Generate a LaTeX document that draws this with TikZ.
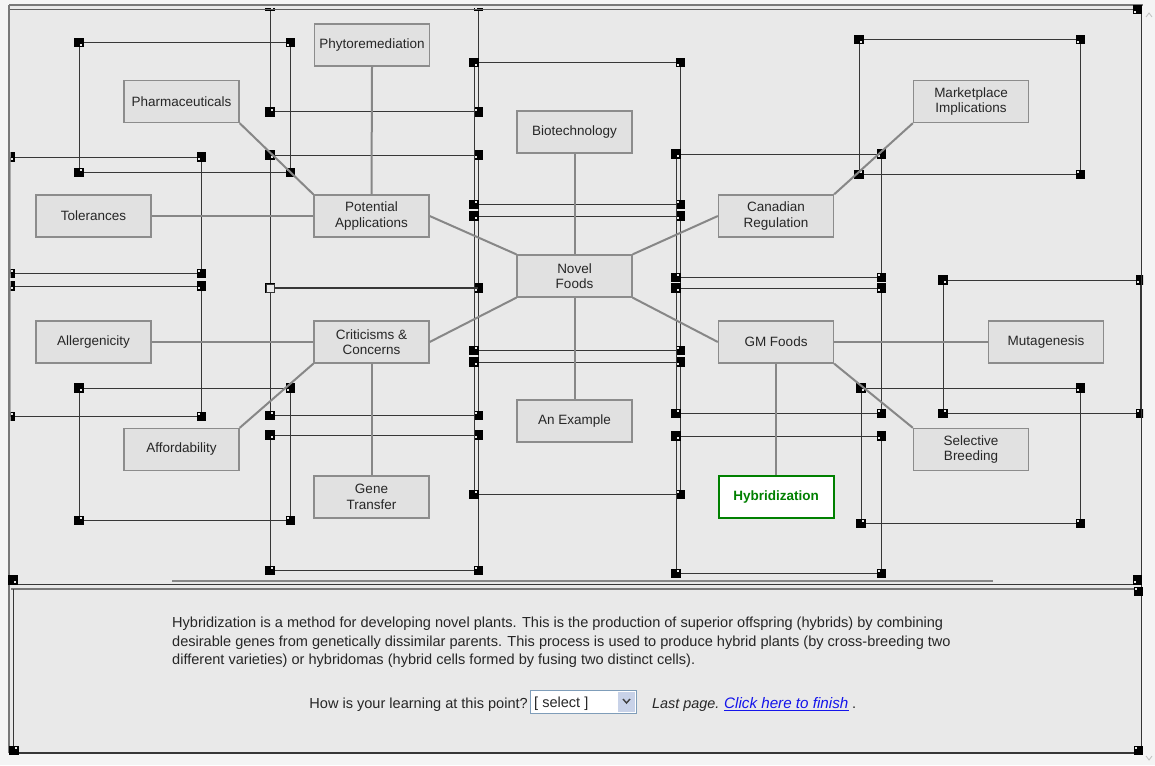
\documentclass[tikz,border=0pt]{standalone}
\usepackage{fontspec}
\setmainfont{Liberation Sans}
\definecolor{pagebg}{RGB}{244,244,244}
\definecolor{panel}{RGB}{233,233,233}
\definecolor{nodefill}{RGB}{225,225,225}
\definecolor{nodeline}{RGB}{140,140,140}
\definecolor{linkgray}{RGB}{135,135,135}
\definecolor{selline}{RGB}{55,55,55}
\definecolor{framegray}{RGB}{120,120,120}
\definecolor{hybgreen}{RGB}{0,128,0}
\definecolor{linkblue}{RGB}{20,20,235}
\definecolor{boxedge}{RGB}{127,157,185}
\definecolor{btnfill}{RGB}{200,210,232}
\newcommand\selbox[4]{%
  \draw[sel] (#1,#2) rectangle (#3,#4);
  \pic at (#1,#2) {hdl};
  \pic[xscale=-1] at (#3,#2) {hdl};
  \pic[yscale=-1] at (#1,#4) {hdl};
  \pic[xscale=-1,yscale=-1] at (#3,#4) {hdl};
}
\begin{document}
\begin{tikzpicture}[x=1pt,y=-1pt,
  topic/.style={draw=nodeline, fill=nodefill, line width=1.3pt,
    minimum width=115pt, minimum height=42pt, inner sep=0pt, align=center,
    font=\fontsize{13.5}{15.5}\selectfont, text=black!85},
  current/.style={topic, draw=hybgreen, fill=white, line width=2pt,
    text=hybgreen, font=\fontsize{13.5}{15.5}\selectfont\bfseries},
  link/.style={draw=linkgray, line width=2pt},
  sel/.style={draw=selline, line width=1pt},
  hdl/.pic={\fill[black] (-5,-5) rectangle (4.5,4.5);
            \fill[panel] (1,1) rectangle (3.2,3.2);},
  para/.style={anchor=base west, inner sep=0pt,
    font=\fontsize{14.55}{16}\selectfont, text=black!85}]

% page and panels
\useasboundingbox (0,0) rectangle (1155,765);
\fill[pagebg] (0,0) rectangle (1155,765);
\fill[panel] (9,5) rectangle (1141,753);

% selection rectangles with corner handles
\begin{scope}
\clip (10.5,9) rectangle (1143,583);
% left column
\selbox{270}{7}{478}{112}
\selbox{270}{155}{478}{288}
\selbox{270}{288}{478}{415}
\selbox{270}{435}{478}{570}
% far left
\selbox{79}{43}{290}{172}
\selbox{10}{157}{201}{273}
\selbox{10}{286}{201}{416}
\selbox{79}{388}{290}{520}
% centre column
\selbox{474}{63}{680}{204}
\selbox{474}{216}{680}{350}
\selbox{474}{362}{680}{494}
% right column
\selbox{676}{154}{881}{277}
\selbox{676}{288}{881}{413}
\selbox{676}{436}{881}{573}
% far right
\selbox{859}{40}{1080}{174}
\selbox{943}{280}{1140}{413}
\selbox{861}{388}{1080}{523}
% shared edge and its open handle
\draw[selline, line width=1.8pt] (270,288) -- (478,288);
\draw[selline, fill=panel, line width=0.8pt] (266,284) rectangle (274,292);
\end{scope}

% concept boxes
\node[topic] (phyto) at (372,45)     {Phytoremediation};
\node[topic] (pharma) at (181.5,101.5) {Pharmaceuticals};
\node[topic] (biotech) at (574.5,132) {Biotechnology};
\node[topic] (market) at (971,101.5) {Marketplace\\Implications};
\node[topic] (toler) at (93.5,216)   {Tolerances};
\node[topic] (potent) at (371.5,216) {Potential\\Applications};
\node[topic] (canreg) at (776,216)   {Canadian\\Regulation};
\node[topic] (novel) at (574.5,276)  {Novel\\Foods};
\node[topic] (allerg) at (93.5,342)  {Allergenicity};
\node[topic] (critic) at (371.5,342) {Criticisms \&\\Concerns};
\node[topic] (gmf) at (776,342)      {GM Foods};
\node[topic] (mutag) at (1046,342)   {Mutagenesis};
\node[topic] (example) at (574.5,421) {An Example};
\node[topic] (afford) at (181.5,449.5) {Affordability};
\node[topic] (selbreed) at (971,449.5) {Selective\\Breeding};
\node[topic] (genetr) at (371.5,497) {Gene\\Transfer};
\node[current] (hybrid) at (776,497) {Hybridization};

% connectors
\draw[link] (phyto.south) -- (potent.north);
\draw[link] (pharma.south east) -- (potent.north west);
\draw[link] (toler.east) -- (potent.west);
\draw[link] (potent.east) -- (novel.north west);
\draw[link] (biotech.south) -- (novel.north);
\draw[link] (canreg.west) -- (novel.north east);
\draw[link] (canreg.north east) -- (market.south west);
\draw[link] (novel.south west) -- (critic.east);
\draw[link] (novel.south) -- (example.north);
\draw[link] (novel.south east) -- (gmf.west);
\draw[link] (allerg.east) -- (critic.west);
\draw[link] (critic.south west) -- (afford.north east);
\draw[link] (critic.south) -- (genetr.north);
\draw[link] (gmf.east) -- (mutag.west);
\draw[link] (gmf.south east) -- (selbreed.north west);
\draw[link] (gmf.south) -- (hybrid.north);

% panel frames
\draw[framegray, line width=1.5pt] (9,5) -- (1143,5);
\draw[selline!80, line width=1pt] (9,9.5) -- (1138,9.5);
\draw[framegray, line width=1.5pt] (9,5) -- (9,753);
\draw[selline, line width=1pt] (1141,5) -- (1141,753);
\draw[linkgray, line width=2pt] (172,580.5) -- (993,580.5);
\draw[selline, line width=1pt] (11,584) -- (1140,584);
\draw[framegray, line width=1.2pt] (11,589) -- (1140,589);
\draw[selline, line width=1pt] (13,589) -- (13,753);
\draw[selline, line width=1.2pt] (13,753) -- (1140,753);
\pic at (13,580) {hdl};
\pic[xscale=-1] at (1137,580) {hdl};
\pic[xscale=-1,yscale=-1] at (1138,591) {hdl};
\pic[yscale=-1] at (14,750) {hdl};
\pic[xscale=-1,yscale=-1] at (1138,750) {hdl};
\pic[xscale=-1] at (1137,10) {hdl};

% scroll arrows at the right edge
\draw[black!25, line width=0.8pt] (1146,17) -- (1149,13) -- (1152,17);
\draw[black!25, line width=0.8pt] (1146,756) -- (1149,760) -- (1152,756);

% explanation text
\node[para] (l1) at (172,627) {Hybridization is a method for developing novel plants. This is the production of superior offspring (hybrids) by combining};
\node[para] (l2) at (172,646) {desirable genes from genetically dissimilar parents. This process is used to produce hybrid plants (by cross-breeding two};
\node[para] (l3) at (172,664) {different varieties) or hybridomas (hybrid cells formed by fusing two distinct cells).};

% feedback line
\node[para, anchor=base east] (ask) at (528,708) {How is your learning at this point?};
\draw[boxedge, fill=white, line width=1pt] (530,690) rectangle (636,713);
\node[para] (selc) at (534,707) {[ select ]};
\fill[btnfill] (618,692) rectangle (635,712);
\draw[black!75, line width=1.4pt] (623,699) -- (626.5,703) -- (630,699);
\node[para, font=\fontsize{14.4}{16}\selectfont\itshape] (last) at (652,708) {Last page.};
\node[para, font=\fontsize{15.2}{16}\selectfont\itshape, text=linkblue] (finish) at (724,708) {Click here to finish};
\draw[linkblue, line width=0.8pt] (finish.base west) ++(0,2) -- ([yshift=-2pt]finish.base east);
\node[para] (dot) at (852,708) {.};
\end{tikzpicture}
\end{document}
